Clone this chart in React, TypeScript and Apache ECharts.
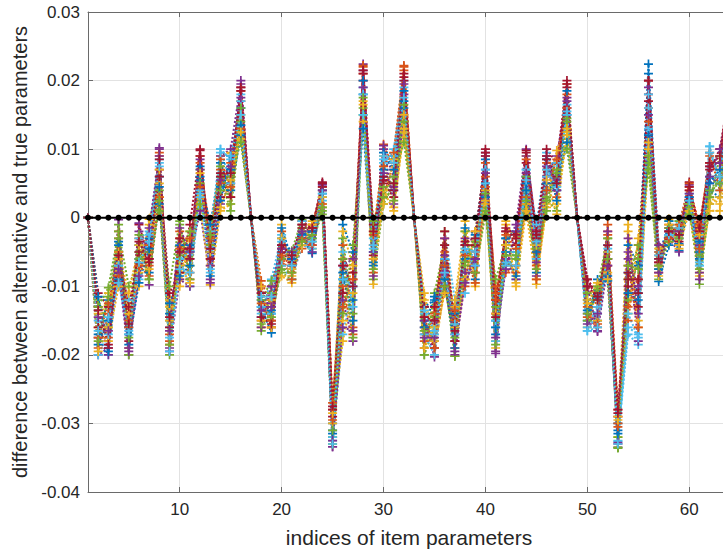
import React, { useEffect, useRef } from "react";
import * as echarts from "echarts";

// item parameter indices (x) and axis tick labels
const itemIndices: number[] = Array.from({ length: 64 }, (_, i) => i + 1);
const xTickValues = [10, 20, 30, 40, 50, 60];
const yTickStep = 0.01;

// values are stored in units of 1e-4
const UNIT = 1e-4;

const rep01 = [
  0, -185, -150, -40, -170, -60, -30, 60, -140, -70, -40, 55, -50, 45, 70, 160,
  0, -120, -140, -40, -70, -20, -30, 30, -300, -90, -120, 180, -50, 60, 40, 170,
  0, -150, -180, -60, -160, -50, -60, 50, -150, -30, -50, 60, -40, 50, 40, 150,
  0, -120, -150, -50, -300, -80, -110, 224, -60, -20, -48, 20, -50, 60, 50, 160,
];
const rep02 = [
  0, -130, -175, -20, -190, -30, -70, 90, -180, -30, -90, 80, -20, 70, 30, 130,
  0, -150, -100, -70, -55, -35, -10, 45, -280, -40, -160, 210, -80, 30, 80, 215,
  0, -190, -130, -30, -190, -90, -20, 80, -110, -60, -80, 20, -70, 80, 70, 195,
  0, -100, -130, -20, -280, -150, -40, 160, -80, -10, -30, 40, -20, 90, 80, 130,
];
const rep03 = [
  0, -160, -110, -60, -140, -80, -10, 30, -120, -90, -20, 30, -70, 90, 95, 115,
  0, -160, -160, -10, -85, -10, -45, 15, -320, -150, -60, 140, -20, 90, 15, 125,
  0, -120, -200, -100, -130, -20, -95, 20, -180, -10, -30, 90, -90, 15, 20, 120,
  0, -160, -100, -80, -320, -20, -160, 100, -45, -35, -10, 10, -85, 30, 20, 150,
];
const rep04 = [
  0, -200, -190, -80, -200, -20, -50, 100, -190, -50, -60, 10, -90, 20, 50, 200,
  0, -110, -125, -60, -60, -40, -20, 50, -334, -120, -180, 224, -60, 100, 60, 180,
  0, -170, -150, -80, -170, -30, -70, 95, -198, -40, -10, 100, -20, 60, 90, 175,
  0, -140, -165, -60, -335, -60, -100, 190, -70, -25, -40, 30, -40, 50, 60, 180,
];
const rep05 = [
  0, -120, -160, -10, -200, -50, -90, 40, -200, -10, -70, 70, -30, 60, 10, 140,
  0, -165, -110, -80, -90, -15, -35, 10, -320, -30, -140, 160, -90, 20, 50, 140,
  0, -200, -110, -40, -202, -70, -40, 10, -130, -70, -60, 40, -60, 30, 10, 140,
  0, -110, -120, -30, -336, -120, -60, 80, -90, -5, -20, 15, -97, 20, 90, 140,
];
const rep06 = [
  0, -150, -200, -70, -120, -90, -25, 80, -160, -60, -100, 40, -80, 100, 85, 180,
  0, -140, -90, -25, -75, -25, -50, 25, -325, -170, -100, 190, -30, 80, 100, 200,
  0, -140, -170, -20, -120, -110, -30, 70, -160, -50, -90, 70, -10, 95, 60, 165,
  0, -165, -140, -40, -325, -170, -185, 130, -50, -15, -5, 35, -70, 104, 40, 170,
];
const rep07 = [
  0, -110, -130, -50, -180, -10, -60, 70, -110, -80, -10, 100, -60, 30, 60, 190,
  0, -100, -150, -50, -65, -5, -15, 52, -290, -60, -80, 200, -10, 50, 30, 200,
  0, -160, -190, -100, -180, -40, -80, 100, -120, -20, -40, 80, -30, 100, 80, 200,
  0, -90, -110, -70, -290, -100, -130, 170, -65, -30, -35, 52, -30, 70, 100, 190,
];
const rep08 = [
  0, -170, -120, -90, -160, -40, -80, 20, -150, -40, -50, 60, -10, 80, 40, 120,
  0, -130, -168, -30, -50, -30, -52, 35, -310, -10, -50, 130, -70, 70, 90, 160,
  0, -130, -120, -70, -140, -60, -90, 30, -170, -30, -20, 50, -80, 40, 50, 110,
  0, -150, -90, -92, -310, -40, -70, 210, -93, -40, -25, 25, -60, 40, 30, 150,
];
const rep09 = [
  0, -190, -140, -30, -150, -70, -40, 95, -170, -20, -80, 90, -40, 50, 80, 170,
  0, -92, -130, -20, -80, -45, -25, 40, -270, -100, -170, 222, -40, 107, 70, 222,
  0, -180, -140, -50, -150, -100, -50, 60, -100, -80, -70, 30, -50, 70, 30, 180,
  0, -130, -160, -10, -300, -130, -90, 140, -55, -20, -15, 45, -10, 80, 70, 200,
];
const rep10 = [
  0, -140, -180, -100, -130, -100, -2, 50, -130, -100, -30, 20, -98, 10, 20, 150,
  0, -150, -120, -85, -95, -20, -5, 20, -300, -180, -110, 170, -97, 40, 10, 130,
  0, -110, -180, -110, -120, -5, -100, 40, -190, -5, -100, 10, -97, 20, 98, 130,
  0, -120, -150, -50, -290, -10, -150, 90, -85, -2, -45, 10, -80, 10, 10, 110,
];
const rep11 = [
  0, -175, -200, -3, -195, -8, -98, 102, -195, -90, -100, 70, -70, 90, 100, 195,
  0, -160, -100, -40, -60, -10, -40, 48, -334, -70, -60, 190, -85, 105, 20, 150,
  0, -150, -203, -30, -200, -80, -60, 90, -195, -60, -90, 90, -85, 90, 40, 160,
  0, -100, -166, -70, -330, -50, -180, 200, -40, -30, -50, 48, -90, 60, 100, 170,
];
const rep12 = [
  0, -130, -102, -20, -100, -60, -50, 10, -100, -5, -90, 50, -40, 40, 60, 110,
  0, -120, -92, -60, -48, -3, -30, 5, -330, -140, -40, 150, -5, 30, 60, 110,
  0, -200, -160, -90, -202, -20, -80, 5, -90, -40, -60, 60, -45, 10, 70, 100,
  0, -150, -100, -30, -320, -90, -40, 70, -75, -35, -5, 5, -55, 30, 60, 120,
];
const rep13 = [
  0, -200, -170, -70, -170, -30, -20, 85, -175, -60, -50, 30, -20, 100, 50, 170,
  0, -130, -140, -70, -90, -40, -45, 30, -320, -50, -130, 180, -40, 85, 90, 190,
  0, -170, -200, -60, -170, -50, -70, 70, -180, -70, -50, 70, -60, 60, 80, 150,
  0, -160, -130, -40, -326, -160, -170, 160, -60, -25, -30, 20, -70, 104, 50, 180,
];
const rep14 = [
  0, -160, -190, -50, -130, -50, -60, 60, -160, -30, -60, 98, -60, 60, 30, 190,
  0, -110, -160, -45, -70, -15, -20, 45, -280, -110, -90, 210, -55, 60, 40, 205,
  0, -130, -130, -40, -180, -40, -40, 95, -140, -20, -30, 98, -20, 90, 60, 190,
  0, -90, -120, -60, -280, -80, -110, 180, -65, -15, -20, 40, -20, 80, 80, 200,
];
const rep15 = [
  0, -115, -195, -35, -185, -95, -45, 45, -125, -85, -70, 75, -85, 25, 90, 135,
  0, -145, -135, -15, -60, -25, -20, 40, -315, -80, -150, 200, -65, 95, 70, 185,
  0, -160, -115, -90, -190, -15, -25, 85, -160, -50, -85, 40, -50, 85, 25, 185,
  0, -135, -115, -85, -315, -110, -120, 120, -75, -5, -38, 30, -35, 50, 70, 160,
];
const rep16 = [
  0, -175, -125, -85, -160, -70, -85, 30, -185, -45, -30, 45, -30, 85, 45, 185,
  0, -125, -150, -55, -90, -30, -40, 20, -295, -130, -90, 220, -25, 75, 95, 220,
  0, -145, -190, -70, -135, -55, -95, 45, -120, -25, -45, 85, -90, 40, 85, 160,
  0, -145, -155, -25, -305, -70, -160, 200, -50, -30, -10, 50, -45, 95, 40, 190,
];
const rep17 = [
  0, -195, -160, -50, -110, -40, -75, 70, -150, -70, -95, 65, -50, 15, 55, 125,
  0, -100, -160, -30, -75, -40, -10, 30, -285, -20, -70, 165, -60, 20, 85, 150,
  0, -190, -160, -20, -160, -90, -20, 25, -140, -40, -95, 20, -40, 55, 5, 125,
  0, -125, -95, -90, -295, -140, -30, 110, -70, -10, -40, 20, -25, 20, 30, 130,
];
const rep18 = [
  0, -145, -165, -75, -190, -85, -15, 90, -165, -15, -50, 85, -95, 55, 75, 175,
  0, -135, -130, -45, -50, -20, -50, 40, -325, -160, -165, 215, -50, 65, 45, 195,
  0, -175, -175, -55, -195, -95, -60, 65, -175, -75, -20, 65, -65, 75, 55, 170,
  0, -155, -140, -20, -328, -30, -140, 150, -80, -20, -20, 35, -80, 75, 80, 175,
];
const rep19 = [
  0, -180, -115, -30, -175, -25, -90, 25, -185, -55, -20, 20, -25, 75, 20, 160,
  0, -155, -145, -75, -80, -35, -25, 15, -310, -60, -175, 175, -75, 45, 25, 165,
  0, -165, -145, -100, -175, -65, -35, 35, -185, -55, -55, 25, -75, 25, 65, 145,
  0, -140, -105, -60, -335, -70, -75, 90, -70, -15, -30, 20, -75, 40, 50, 150,
];
const rep20 = [
  0, -165, -145, -95, -165, -65, -35, 75, -195, -75, -80, 35, -75, 95, 90, 150,
  0, -115, -115, -35, -70, -5, -35, 35, -330, -90, -100, 150, -45, 90, 80, 175,
  0, -135, -165, -80, -155, -45, -50, 50, -150, -65, -70, 55, -35, 70, 45, 155,
  0, -165, -160, -45, -330, -140, -175, 180, -55, -25, -15, 25, -65, 95, 60, 165,
];
const rep21 = [
  0, -135, -185, -55, -155, -35, -65, 85, -145, -50, -45, 90, -45, 65, 65, 185,
  0, -145, -155, -40, -55, -10, -15, 50, -275, -70, -100, 215, -20, 55, 50, 210,
  0, -145, -150, -20, -165, -35, -30, 90, -145, -15, -25, 95, -25, 85, 50, 195,
  0, -100, -115, -40, -285, -90, -90, 200, -60, -20, -25, 45, -15, 75, 90, 195,
];

// reference (zero difference) line
const zeroLine = [
  0, 0, 0, 0, 0, 0, 0, 0, 0, 0, 0, 0, 0, 0, 0, 0,
  0, 0, 0, 0, 0, 0, 0, 0, 0, 0, 0, 0, 0, 0, 0, 0,
  0, 0, 0, 0, 0, 0, 0, 0, 0, 0, 0, 0, 0, 0, 0, 0,
  0, 0, 0, 0, 0, 0, 0, 0, 0, 0, 0, 0, 0, 0, 0, 0,
];

const replications = [
  rep01, rep02, rep03, rep04, rep05, rep06, rep07,
  rep08, rep09, rep10, rep11, rep12, rep13, rep14,
  rep15, rep16, rep17, rep18, rep19, rep20, rep21,
];

const matlabColors = [
  "#0072BD", "#D95319", "#EDB120", "#7E2F8E", "#77AC30", "#4DBEEE", "#A2142F",
];

const PLUS = "path://M5 0L5 10M0 5L10 5";
const FONT = "'Liberation Sans', Arial, Helvetica, sans-serif";
const TXT = "#262626";
const AXIS = "#6a6a6a";
const GRID = "#e2e2e2";

export default function App() {
  const ref = useRef<HTMLDivElement>(null);

  useEffect(() => {
    if (!ref.current) return;
    const chart = echarts.init(ref.current, null, { renderer: "svg" });

    const repSeries = replications.map((arr, k) => {
      const c = matlabColors[k % matlabColors.length];
      return {
        type: "line",
        xAxisIndex: 0,
        yAxisIndex: 0,
        silent: true,
        data: itemIndices.map((x, i) => [x, arr[i] * UNIT]),
        symbol: PLUS,
        symbolSize: 9,
        showSymbol: true,
        lineStyle: { type: "dotted", width: 2, color: c },
        itemStyle: { color: c, borderColor: c, borderWidth: 1.7 },
        z: 2,
      };
    });

    const option: any = {
      animation: false,
      backgroundColor: "#ffffff",
      textStyle: { fontFamily: FONT },
      grid: { left: 88, top: 12, right: 0, bottom: 62, containLabel: false },
      xAxis: [
        {
          type: "value",
          min: 1,
          max: 64,
          position: "bottom",
          name: "indices of item parameters",
          nameLocation: "middle",
          nameGap: 35,
          nameTextStyle: { fontSize: 21, color: TXT, fontFamily: FONT },
          axisLine: { show: true, onZero: false, lineStyle: { color: AXIS, width: 1 } },
          axisTick: { show: true, inside: true, length: 5, customValues: xTickValues, lineStyle: { color: AXIS } },
          axisLabel: { show: true, customValues: xTickValues, fontSize: 17, color: TXT, margin: 9, fontFamily: FONT },
          splitLine: { show: true, lineStyle: { color: GRID, width: 1 } },
        },
        {
          type: "value",
          min: 1,
          max: 64,
          position: "top",
          axisLine: { show: true, onZero: false, lineStyle: { color: AXIS, width: 1 } },
          axisTick: { show: true, inside: true, length: 5, customValues: xTickValues, lineStyle: { color: AXIS } },
          axisLabel: { show: false },
          splitLine: { show: false },
        },
      ],
      yAxis: [
        {
          type: "value",
          min: -0.04,
          max: 0.03,
          interval: yTickStep,
          name: "difference between alternative and true parameters",
          nameLocation: "middle",
          nameGap: 56,
          nameTextStyle: { fontSize: 20, color: TXT, fontFamily: FONT },
          axisLine: { show: true, onZero: false, lineStyle: { color: AXIS, width: 1 } },
          axisTick: { show: true, inside: true, length: 5, lineStyle: { color: AXIS } },
          axisLabel: {
            fontSize: 17,
            color: TXT,
            margin: 8,
            fontFamily: FONT,
            formatter: (v: number) => (Math.abs(v) < 1e-9 ? "0" : v.toFixed(2)),
          },
          splitLine: { show: true, lineStyle: { color: GRID, width: 1 } },
        },
      ],
      series: [
        ...repSeries,
        {
          type: "line",
          silent: true,
          data: itemIndices.map((x, i) => [x, zeroLine[i]]),
          symbol: "circle",
          symbolSize: 6,
          showSymbol: true,
          lineStyle: { type: "solid", width: 2, color: "#000000" },
          itemStyle: { color: "#000000" },
          z: 5,
        },
      ],
    };

    chart.setOption(option);
    return () => chart.dispose();
  }, []);

  return (
    <div
      style={{
        position: "absolute",
        left: 0,
        top: 0,
        width: 723,
        height: 554,
        overflow: "hidden",
        background: "#ffffff",
      }}
    >
      <div ref={ref} style={{ width: 730, height: 554 }} />
    </div>
  );
}
